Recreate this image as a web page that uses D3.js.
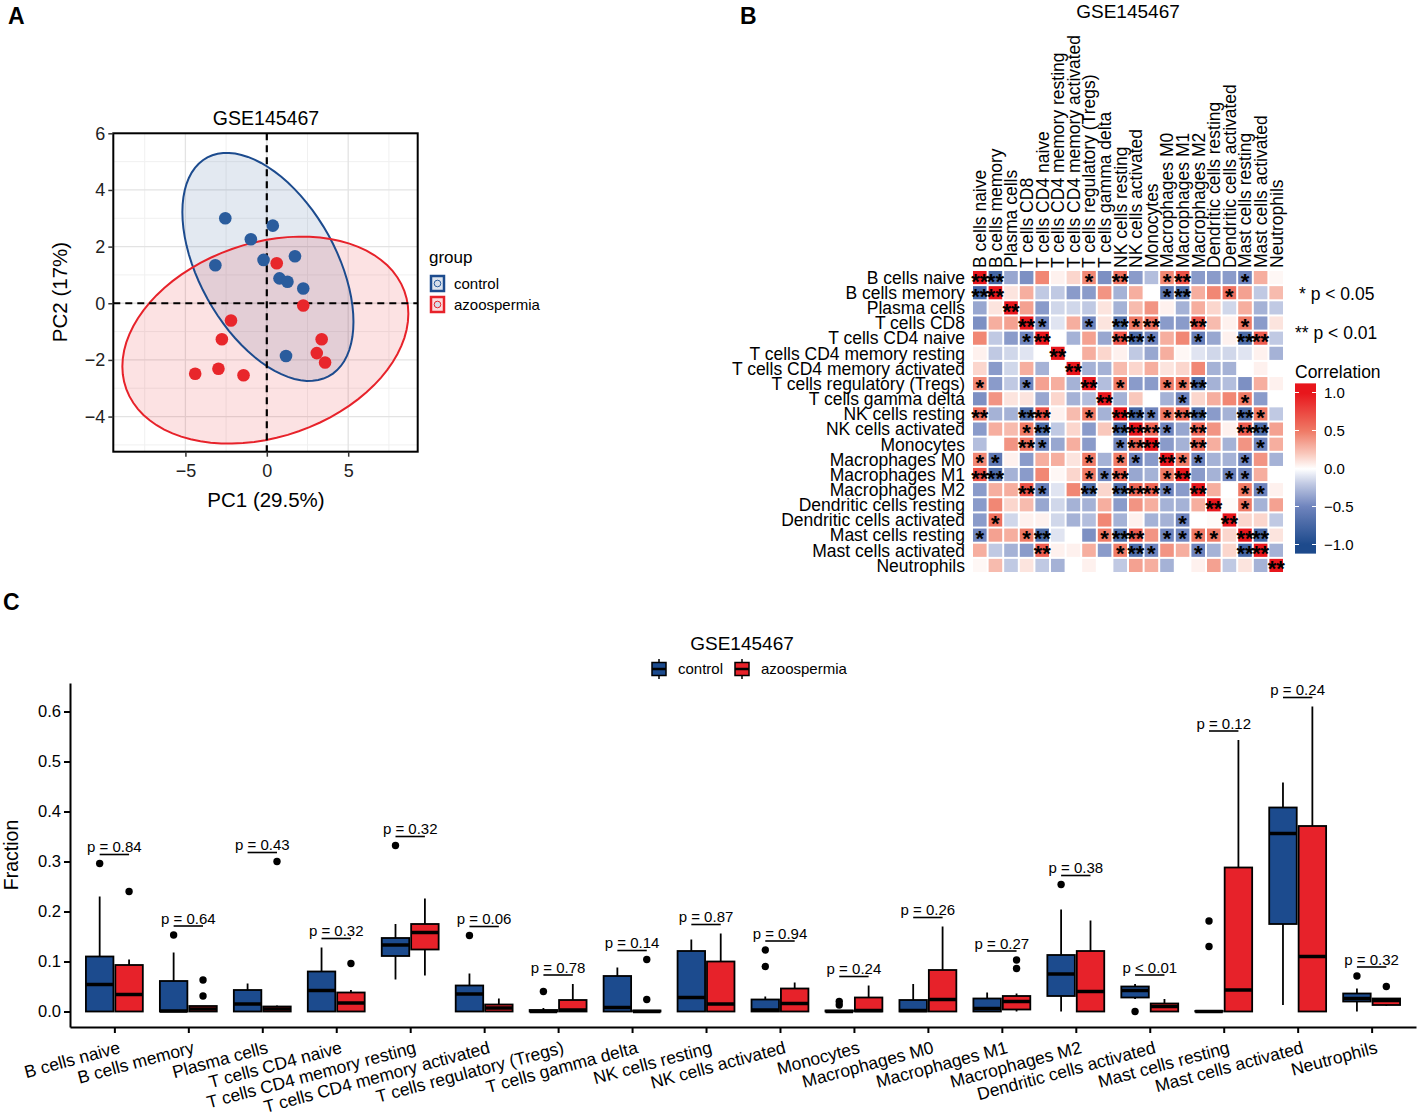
<!DOCTYPE html>
<html lang="en">
<head>
<meta charset="utf-8">
<title>GSE145467 immune cells</title>
<script src="https://cdn.jsdelivr.net/npm/d3@7"></script>
<style>
  html, body { margin: 0; padding: 0; background: white; }
  text { font-family: 'Liberation Sans', Arial, Helvetica, sans-serif; }
</style>
</head>
<body>
<script>

// ---------- data ----------
// panel A: PCA scores
var ctrlPC1 = [-2.55, 0.37, -0.98, -0.20, -3.16, 1.73, 0.78, 1.27, 2.24, 1.18];
var ctrlPC2 = [3.00, 2.74, 2.26, 1.53, 1.34, 1.66, 0.88, 0.76, 0.52, -1.86];
var azoPC1 = [0.61, 2.24, -2.20, -2.76, 3.37, 3.07, 3.58, -4.40, -2.97, -1.43];
var azoPC2 = [1.41, -0.08, -0.61, -1.27, -1.27, -1.76, -2.09, -2.49, -2.31, -2.54];
var groups = ["control", "azoospermia"];

// panel B: correlation matrix (upper triangle, row i -> columns i+1..20)
var cellTypes = ["B cells naive", "B cells memory", "Plasma cells", "T cells CD8", "T cells CD4 naive",
  "T cells CD4 memory resting", "T cells CD4 memory activated", "T cells regulatory (Tregs)",
  "T cells gamma delta", "NK cells resting", "NK cells activated", "Monocytes", "Macrophages M0",
  "Macrophages M1", "Macrophages M2", "Dendritic cells resting", "Dendritic cells activated",
  "Mast cells resting", "Mast cells activated", "Neutrophils"];
var corrUpper = [
  [-0.75, -0.35, -0.45, 0.45, 0.05, 0.15, 0.45, -0.45, 0.55, -0.4, -0.25, 0.45, 0.7, -0.4, -0.4, -0.4, -0.5, 0.3, 0.03],
  [0.1, 0.3, -0.2, -0.2, -0.4, -0.4, 0.4, -0.3, 0.3, 0.0, -0.6, -0.7, 0.3, 0.45, 0.55, 0.35, -0.2, 0.25],
  [0.35, -0.4, -0.15, -0.15, -0.2, 0.1, -0.3, 0.25, 0.4, 0.05, -0.3, 0.3, 0.15, -0.15, 0.3, -0.3, -0.2],
  [-0.5, -0.1, 0.3, -0.5, 0.1, -0.7, 0.5, 0.55, -0.4, -0.4, 0.7, 0.25, 0.05, 0.5, -0.4, 0.1],
  [0.0, -0.3, 0.35, -0.35, 0.7, -0.7, -0.5, 0.3, 0.45, -0.55, -0.35, 0.05, -0.7, 0.65, -0.2],
  [0.0, 0.3, 0.15, 0.05, -0.2, -0.35, 0.3, 0.03, -0.1, -0.15, -0.15, -0.1, 0.05, -0.3],
  [-0.3, -0.3, 0.25, 0.15, 0.3, 0.1, 0.15, 0.45, -0.3, -0.3, 0.0, 0.05, 0.0],
  [-0.25, 0.5, -0.4, -0.4, 0.5, 0.5, -0.7, -0.3, -0.25, -0.45, 0.3, 0.05],
  [-0.3, 0.2, 0.0, -0.3, -0.5, 0.15, 0.3, 0.45, 0.5, -0.4, 0.0],
  [-0.75, -0.5, 0.5, 0.6, -0.7, -0.4, -0.3, -0.7, 0.5, -0.2],
  [0.6, -0.5, -0.35, 0.6, 0.4, 0.05, 0.65, -0.7, 0.35],
  [-0.4, -0.3, 0.6, 0.3, -0.3, 0.4, -0.5, 0.3],
  [0.5, -0.5, -0.3, -0.3, -0.5, 0.4, -0.3],
  [-0.4, -0.3, -0.5, -0.5, 0.3, 0.0],
  [0.3, 0.0, 0.5, -0.5, 0.05],
  [0.02, 0.5, -0.3, 0.35],
  [0.15, 0.15, -0.2],
  [-0.75, 0.1],
  [-0.3]
];
// number of stars (1: p < 0.05, 2: p < 0.01), same layout as corrUpper
var starUpper = [
  [2, 0, 0, 0, 0, 0, 1, 0, 2, 0, 0, 1, 2, 0, 0, 0, 1, 0, 0],
  [0, 0, 0, 0, 0, 0, 0, 0, 0, 0, 1, 2, 0, 0, 1, 0, 0, 0],
  [0, 0, 0, 0, 0, 0, 0, 0, 0, 0, 0, 0, 0, 0, 0, 0, 0],
  [1, 0, 0, 1, 0, 2, 1, 2, 0, 0, 2, 0, 0, 1, 0, 0],
  [0, 0, 0, 0, 2, 2, 1, 0, 0, 1, 0, 0, 2, 2, 0],
  [0, 0, 0, 0, 0, 0, 0, 0, 0, 0, 0, 0, 0, 0],
  [0, 0, 0, 0, 0, 0, 0, 0, 0, 0, 0, 0, 0],
  [0, 1, 0, 0, 1, 1, 2, 0, 0, 0, 0, 0],
  [0, 0, 0, 0, 1, 0, 0, 0, 1, 0, 0],
  [2, 1, 1, 2, 2, 0, 0, 2, 1, 0],
  [2, 1, 0, 2, 0, 0, 2, 2, 0],
  [0, 0, 2, 0, 0, 0, 1, 0],
  [1, 1, 0, 0, 1, 0, 0],
  [0, 0, 1, 1, 0, 0],
  [0, 0, 1, 1, 0],
  [0, 1, 0, 0],
  [0, 0, 0],
  [2, 0],
  [0]
];
var corrTicks = [1.0, 0.5, 0.0, -0.5, -1.0];

// panel C: boxplot stats [lower whisker, q1, median, q3, upper whisker]
var boxCells = ["B cells naive", "B cells memory", "Plasma cells", "T cells CD4 naive",
  "T cells CD4 memory resting", "T cells CD4 memory activated", "T cells regulatory (Tregs)",
  "T cells gamma delta", "NK cells resting", "NK cells activated", "Monocytes", "Macrophages M0",
  "Macrophages M1", "Macrophages M2", "Dendritic cells activated", "Mast cells resting",
  "Mast cells activated", "Neutrophils"];
var ctrlBox = [
  [0, 0, 0.054, 0.110, 0.230], [0, 0, 0.001, 0.061, 0.118], [0, 0, 0.015, 0.043, 0.056],
  [0, 0, 0.042, 0.080, 0.128], [0.064, 0.111, 0.133, 0.147, 0.175], [0, 0, 0.035, 0.052, 0.076],
  [0, 0, 0, 0.003, 0.007], [0, 0, 0.008, 0.071, 0.088], [0, 0, 0.028, 0.121, 0.144],
  [0, 0, 0.003, 0.024, 0.030], [0, 0, 0, 0.002, 0.003], [0, 0, 0.002, 0.023, 0.055],
  [0, 0, 0.006, 0.026, 0.038], [0, 0.031, 0.075, 0.113, 0.204], [0.025, 0.028, 0.042, 0.050, 0.055],
  [0, 0, 0, 0.001, 0.001], [0.013, 0.175, 0.356, 0.408, 0.458], [0, 0.020, 0.026, 0.036, 0.046]
];
var ctrlOut = [[0.296], [0.153], [], [], [0.332], [0.152], [0.040], [], [], [0.090, 0.123],
  [0.013, 0.020], [], [], [0.254], [0.0], [0.130, 0.181], [], [0.071]];
var azoBox = [
  [0, 0, 0.034, 0.093, 0.104], [0, 0, 0.005, 0.011, 0.011], [0, 0, 0.005, 0.010, 0.012],
  [0, 0, 0.017, 0.038, 0.043], [0.072, 0.124, 0.158, 0.175, 0.226], [0, 0, 0.007, 0.014, 0.026],
  [0, 0, 0.003, 0.023, 0.055], [0, 0, 0, 0.002, 0.002], [0, 0, 0.015, 0.100, 0.156],
  [0, 0, 0.016, 0.046, 0.058], [0, 0, 0.002, 0.028, 0.052], [0, 0, 0.024, 0.083, 0.170],
  [0, 0.004, 0.020, 0.031, 0.036], [0, 0, 0.040, 0.121, 0.182], [0, 0, 0.010, 0.016, 0.025],
  [0, 0, 0.043, 0.288, 0.543], [0, 0, 0.110, 0.371, 0.610], [0.011, 0.013, 0.022, 0.026, 0.026]
];
var azoOut = [[0.240], [0.031, 0.063], [0.300], [0.096], [], [], [], [0.024, 0.104], [], [],
  [], [], [0.086, 0.103], [], [], [], [], [0.050]];
var pLabels = ["p = 0.84", "p = 0.64", "p = 0.43", "p = 0.32", "p = 0.32", "p = 0.06", "p = 0.78",
  "p = 0.14", "p = 0.87", "p = 0.94", "p = 0.24", "p = 0.26", "p = 0.27", "p = 0.38", "p < 0.01",
  "p = 0.12", "p = 0.24", "p = 0.32"];
var fracTicks = [0, 0.1, 0.2, 0.3, 0.4, 0.5, 0.6];

// ---------- setup ----------
var w = 1419, h = 1117;
var blue = "#1c4b8e", red = "#e7222a";
var ptBlue = "#2a5c9d", ptRed = "#e8262b";

var svg = d3.select("body").append("svg")
  .attr("width", w)
  .attr("height", h);

// panel letters
[["A", 8, 24], ["B", 740, 24], ["C", 3, 610]].forEach(function(d) {
  svg.append("text").attr("x", d[1]).attr("y", d[2]).text(d[0])
    .attr("font-size", 23).attr("font-weight", "bold");
});

// ================= Panel A : PCA =================
var ga = svg.append("g");
var pcaX = d3.scaleLinear().domain([-9.43, 9.27]).range([113.3, 417.7]);
var pcaY = d3.scaleLinear().domain([-5.24, 6.0]).range([451.7, 133.3]);

// minor + major grid
[-7.5, -2.5, 2.5, 7.5].forEach(function(v) {
  ga.append("line").attr("x1", pcaX(v)).attr("x2", pcaX(v)).attr("y1", 133.3).attr("y2", 451.7)
    .attr("stroke", "#f0f0f0").attr("stroke-width", 1);
});
[-5, -3, -1, 1, 3, 5].forEach(function(v) {
  ga.append("line").attr("y1", pcaY(v)).attr("y2", pcaY(v)).attr("x1", 113.3).attr("x2", 417.7)
    .attr("stroke", "#f0f0f0").attr("stroke-width", 1);
});
[-5, 0, 5].forEach(function(v) {
  ga.append("line").attr("x1", pcaX(v)).attr("x2", pcaX(v)).attr("y1", 133.3).attr("y2", 451.7)
    .attr("stroke", "#e3e3e3").attr("stroke-width", 1.3);
});
[-4, -2, 0, 2, 4, 6].forEach(function(v) {
  ga.append("line").attr("y1", pcaY(v)).attr("y2", pcaY(v)).attr("x1", 113.3).attr("x2", 417.7)
    .attr("stroke", "#e3e3e3").attr("stroke-width", 1.3);
});

// 95% normal data ellipse, F(0.95; 2, 9) = 4.256
var fCrit = 4.256;
function ellipsePts(xs, ys) {
  var n = xs.length, mx = d3.mean(xs), my = d3.mean(ys);
  var sxx = 0, syy = 0, sxy = 0;
  for (var i = 0; i < n; i++) {
    sxx += (xs[i] - mx) * (xs[i] - mx);
    syy += (ys[i] - my) * (ys[i] - my);
    sxy += (xs[i] - mx) * (ys[i] - my);
  }
  sxx /= (n - 1); syy /= (n - 1); sxy /= (n - 1);
  var r = Math.sqrt(2 * fCrit);
  var r11 = Math.sqrt(sxx), r12 = sxy / r11, r22 = Math.sqrt(syy - r12 * r12);
  return d3.range(0, 80).map(function(k) {
    var t = 2 * Math.PI * k / 80, c = Math.cos(t), s = Math.sin(t);
    return [mx + r * c * r11, my + r * (c * r12 + s * r22)];
  });
}
var ellLine = d3.line()
  .x(function(d) { return pcaX(d[0]); })
  .y(function(d) { return pcaY(d[1]); })
  .curve(d3.curveLinearClosed);

var ellC = ellipsePts(ctrlPC1, ctrlPC2), ellA = ellipsePts(azoPC1, azoPC2);
ga.append("path").attr("d", ellLine(ellC)).attr("fill", blue).attr("fill-opacity", 0.12);
ga.append("path").attr("d", ellLine(ellA)).attr("fill", red).attr("fill-opacity", 0.13);
ga.append("path").attr("d", ellLine(ellC)).attr("fill", "none").attr("stroke", blue).attr("stroke-width", 2);
ga.append("path").attr("d", ellLine(ellA)).attr("fill", "none").attr("stroke", red).attr("stroke-width", 2);

// dashed reference lines
ga.append("line").attr("x1", pcaX(0)).attr("x2", pcaX(0)).attr("y1", 133.3).attr("y2", 451.7)
  .attr("stroke", "black").attr("stroke-width", 2.2).attr("stroke-dasharray", "7,5");
ga.append("line").attr("y1", pcaY(0)).attr("y2", pcaY(0)).attr("x1", 113.3).attr("x2", 417.7)
  .attr("stroke", "black").attr("stroke-width", 2.2).attr("stroke-dasharray", "7,5");

// points
ga.selectAll(".pc").data(ctrlPC1).enter().append("circle")
  .attr("cx", function(d) { return pcaX(d); })
  .attr("cy", function(d, i) { return pcaY(ctrlPC2[i]); })
  .attr("r", 6.3).attr("fill", ptBlue);
ga.selectAll(".pa").data(azoPC1).enter().append("circle")
  .attr("cx", function(d) { return pcaX(d); })
  .attr("cy", function(d, i) { return pcaY(azoPC2[i]); })
  .attr("r", 6.3).attr("fill", ptRed);

// border
ga.append("rect").attr("x", 113.3).attr("y", 133.3).attr("width", 304.4).attr("height", 318.4)
  .attr("fill", "none").attr("stroke", "black").attr("stroke-width", 2);

// axes
var axA = ga.append("g").attr("transform", "translate(0,451.7)")
  .call(d3.axisBottom(pcaX).tickValues([-5, 0, 5]).tickSize(5).tickFormat(d3.format("d")));
var ayA = ga.append("g").attr("transform", "translate(113.3,0)")
  .call(d3.axisLeft(pcaY).tickValues([-4, -2, 0, 2, 4, 6]).tickSize(5).tickFormat(d3.format("d")));
[axA, ayA].forEach(function(a) {
  a.select(".domain").remove();
  a.selectAll(".tick line").attr("stroke", "#333").attr("stroke-width", 1.5);
  a.selectAll(".tick text").attr("font-size", 18).attr("fill", "#222")
    .attr("font-family", "'Liberation Sans', Arial, sans-serif");
});
axA.selectAll(".tick text").attr("dy", "0.95em");

ga.append("text").attr("x", 266).attr("y", 125).attr("text-anchor", "middle")
  .attr("font-size", 19.5).text("GSE145467");
ga.append("text").attr("x", 266).attr("y", 507).attr("text-anchor", "middle")
  .attr("font-size", 20.5).text("PC1 (29.5%)");
ga.append("text").attr("transform", "translate(67,292) rotate(-90)").attr("text-anchor", "middle")
  .attr("font-size", 20.5).text("PC2 (17%)");

// legend
ga.append("text").attr("x", 429).attr("y", 263).attr("font-size", 17).text("group");
[[blue, ptBlue, 276], [red, ptRed, 297]].forEach(function(d, i) {
  ga.append("rect").attr("x", 431).attr("y", d[2]).attr("width", 13).attr("height", 15)
    .attr("fill", d[0]).attr("fill-opacity", 0.15).attr("stroke", d[0]).attr("stroke-width", 2.5);
  ga.append("circle").attr("cx", 437.5).attr("cy", d[2] + 7.5).attr("r", 3.3)
    .attr("fill", "#d6deea").attr("stroke", d[1]).attr("stroke-width", 1);
  ga.append("text").attr("x", 454).attr("y", d[2] + 13).attr("font-size", 15).text(groups[i]);
});

// ================= Panel B : correlation heatmap =================
var gb = svg.append("g");
var hx = d3.scaleBand().domain(cellTypes).range([972, 1284]);
var hy = d3.scaleBand().domain(cellTypes).range([270, 573]);
var corrColor = d3.scaleLinear()
  .domain([-1, -0.5, -0.2, 0, 0.2, 0.5, 1])
  .range(["#1d4a8c", "#6f84bd", "#c0c9e3", "#ffffff", "#f9c8bc", "#ef7a66", "#e8161c"]);

var cells = [];
cellTypes.forEach(function(rn, i) {
  cellTypes.forEach(function(cn, j) {
    var v, s;
    if (i === j) { v = 1; s = 2; }
    else if (j > i) { v = corrUpper[i][j - i - 1]; s = starUpper[i][j - i - 1]; }
    else { v = corrUpper[j][i - j - 1]; s = starUpper[j][i - j - 1]; }
    cells.push({ r: rn, c: cn, v: v, s: s });
  });
});

gb.selectAll("rect.cell").data(cells).enter().append("rect")
  .attr("class", "cell")
  .attr("x", function(d) { return hx(d.c) + 1; })
  .attr("y", function(d) { return hy(d.r) + 1; })
  .attr("width", hx.bandwidth() - 2)
  .attr("height", hy.bandwidth() - 2)
  .attr("fill", function(d) { return corrColor(d.v); });

gb.selectAll("text.star").data(cells.filter(function(d) { return d.s > 0; })).enter().append("text")
  .attr("class", "star")
  .attr("x", function(d) { return hx(d.c) + hx.bandwidth() / 2; })
  .attr("y", function(d) { return hy(d.r) + hy.bandwidth() / 2 + 11; })
  .attr("text-anchor", "middle")
  .attr("font-size", 22)
  .attr("font-weight", "bold")
  .text(function(d) { return d.s === 2 ? "**" : "*"; });

gb.selectAll("text.rowlab").data(cellTypes).enter().append("text")
  .attr("class", "rowlab")
  .attr("x", 965)
  .attr("y", function(d) { return hy(d) + hy.bandwidth() / 2; })
  .attr("dy", "0.36em")
  .attr("text-anchor", "end")
  .attr("font-size", 17.5)
  .text(function(d) { return d; });

gb.selectAll("text.collab").data(cellTypes).enter().append("text")
  .attr("class", "collab")
  .attr("transform", function(d) { return "translate(" + (hx(d) + hx.bandwidth() / 2) + ",268) rotate(-90)"; })
  .attr("dy", "0.36em")
  .attr("font-size", 17.5)
  .text(function(d) { return d; });

gb.append("text").attr("x", 1128).attr("y", 18).attr("text-anchor", "middle")
  .attr("font-size", 19).text("GSE145467");

// star legend
gb.append("text").attr("x", 1299).attr("y", 300).attr("font-size", 17.5).text("* p < 0.05");
gb.append("text").attr("x", 1295).attr("y", 339).attr("font-size", 17.5).text("** p < 0.01");

// colour bar
var barY = d3.scaleLinear().domain([-1, 1]).range([544.5, 392.5]);
var defs = svg.append("defs");
var grad = defs.append("linearGradient").attr("id", "corrGrad")
  .attr("x1", 0).attr("x2", 0).attr("y1", 1).attr("y2", 0);
d3.range(-1.12, 1.14, 0.02).forEach(function(v) {
  grad.append("stop").attr("offset", (v + 1.12) / 2.25)
    .attr("stop-color", corrColor(Math.max(-1, Math.min(1, v))));
});
gb.append("text").attr("x", 1295).attr("y", 378).attr("font-size", 17.5).text("Correlation");
gb.append("rect").attr("x", 1295).attr("y", barY(1.12)).attr("width", 21)
  .attr("height", barY(-1.12) - barY(1.12)).attr("fill", "url(#corrGrad)");
corrTicks.forEach(function(t) {
  gb.append("line").attr("x1", 1295).attr("x2", 1299).attr("y1", barY(t)).attr("y2", barY(t))
    .attr("stroke", "white").attr("stroke-width", 1);
  gb.append("line").attr("x1", 1312).attr("x2", 1316).attr("y1", barY(t)).attr("y2", barY(t))
    .attr("stroke", "white").attr("stroke-width", 1);
  gb.append("text").attr("x", 1324).attr("y", barY(t)).attr("dy", "0.36em")
    .attr("font-size", 15).text(d3.format(".1f")(t));
});

// ================= Panel C : boxplots =================
var gc = svg.append("g");
var bx = d3.scalePoint().domain(boxCells).range([70, 1416]).padding(0.6);
var by = d3.scaleLinear().domain([-0.031, 0.657]).range([1027, 683]);
var dodge = 14.7, boxW = 27.5;

var axC = gc.append("g").attr("transform", "translate(0,1027)")
  .call(d3.axisBottom(bx).tickSize(6).tickSizeOuter(0));
axC.selectAll(".tick text")
  .attr("text-anchor", "end")
  .attr("font-size", 17.5)
  .attr("fill", "black")
  .attr("font-family", "'Liberation Sans', Arial, sans-serif")
  .attr("transform", "translate(1,6) rotate(-15)")
  .attr("dy", "0.71em")
  .attr("y", 8);
var ayC = gc.append("g").attr("transform", "translate(70,0)")
  .call(d3.axisLeft(by).tickValues(fracTicks).tickFormat(d3.format(".1f")).tickSize(6).tickSizeOuter(0));
ayC.selectAll(".tick text").attr("font-size", 16.5).attr("fill", "black")
  .attr("font-family", "'Liberation Sans', Arial, sans-serif");
[axC, ayC].forEach(function(a) {
  a.select(".domain").attr("stroke", "black").attr("stroke-width", 2);
  a.selectAll(".tick line").attr("stroke", "black").attr("stroke-width", 2);
});

gc.append("text").attr("transform", "translate(18,855) rotate(-90)").attr("text-anchor", "middle")
  .attr("font-size", 19.5).text("Fraction");

function drawBox(stats, outs, off, fill) {
  var g = gc.append("g");
  boxCells.forEach(function(c, i) {
    var s = stats[i], cx = bx(c) + off;
    g.append("line").attr("x1", cx).attr("x2", cx).attr("y1", by(s[0])).attr("y2", by(s[1]))
      .attr("stroke", "black").attr("stroke-width", 1.8);
    g.append("line").attr("x1", cx).attr("x2", cx).attr("y1", by(s[3])).attr("y2", by(s[4]))
      .attr("stroke", "black").attr("stroke-width", 1.8);
    g.append("rect").attr("x", cx - boxW / 2).attr("y", by(s[3]))
      .attr("width", boxW).attr("height", Math.max(0, by(s[1]) - by(s[3])))
      .attr("fill", fill).attr("stroke", "black").attr("stroke-width", 1.8);
    g.append("line").attr("x1", cx - boxW / 2).attr("x2", cx + boxW / 2)
      .attr("y1", by(s[2])).attr("y2", by(s[2]))
      .attr("stroke", "black").attr("stroke-width", 3.5);
    outs[i].forEach(function(o) {
      g.append("circle").attr("cx", cx).attr("cy", by(o)).attr("r", 3.7).attr("fill", "black");
    });
  });
}
drawBox(ctrlBox, ctrlOut, -dodge, blue);
drawBox(azoBox, azoOut, dodge, red);

// p-value labels
boxCells.forEach(function(c, i) {
  var top = d3.max([ctrlBox[i][4], azoBox[i][4]].concat(ctrlOut[i], azoOut[i]));
  var ly = by(top + 0.018);
  gc.append("line").attr("x1", bx(c) - dodge).attr("x2", bx(c) + dodge).attr("y1", ly).attr("y2", ly)
    .attr("stroke", "black").attr("stroke-width", 1.6);
  gc.append("text").attr("x", bx(c)).attr("y", ly - 2.5).attr("text-anchor", "middle")
    .attr("font-size", 15).text(pLabels[i]);
});

// legend
gc.append("text").attr("x", 742).attr("y", 650).attr("text-anchor", "middle")
  .attr("font-size", 19).text("GSE145467");
[[blue, 651, 678], [red, 734, 761]].forEach(function(d, i) {
  gc.append("line").attr("x1", d[1] + 8).attr("x2", d[1] + 8).attr("y1", 659).attr("y2", 679)
    .attr("stroke", "black").attr("stroke-width", 1.5);
  gc.append("rect").attr("x", d[1] + 1).attr("y", 662.5).attr("width", 14).attr("height", 13)
    .attr("fill", d[0]).attr("stroke", "black").attr("stroke-width", 1.5);
  gc.append("line").attr("x1", d[1] + 1).attr("x2", d[1] + 15).attr("y1", 669).attr("y2", 669)
    .attr("stroke", "black").attr("stroke-width", 2.5);
  gc.append("text").attr("x", d[2]).attr("y", 674).attr("font-size", 15).text(groups[i]);
});

</script>
</body>
</html>
